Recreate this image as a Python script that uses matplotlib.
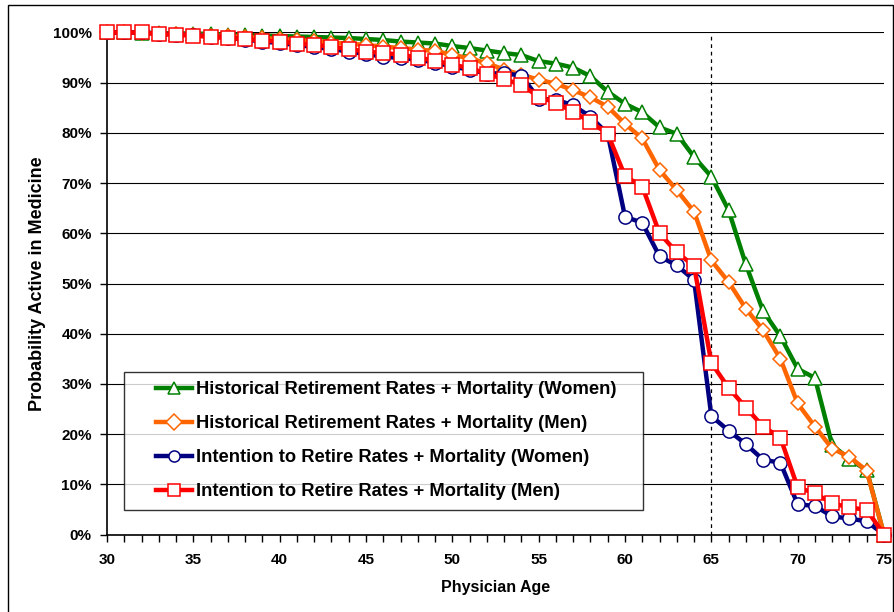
import numpy as np
import matplotlib.pyplot as plt
from matplotlib.patches import Rectangle
from matplotlib.lines import Line2D
from matplotlib.legend_handler import HandlerLine2D
from matplotlib.ticker import MultipleLocator, FuncFormatter

plt.rcParams["font.family"] = ["Liberation Sans", "DejaVu Sans"]
plt.rcParams["font.weight"] = "bold"

ages = list(range(30, 76))

hist_women = [100, 100, 99.9, 99.9, 99.8, 99.8, 99.7, 99.6, 99.5, 99.4,
              99.3, 99.2, 99.1, 99.0, 98.9, 98.7, 98.5, 98.2, 98.0, 97.8,
              97.3, 96.9, 96.4, 95.9, 95.5, 94.3, 93.8, 93.0, 91.3, 88.2,
              85.8, 84.1, 81.1, 79.8, 75.2, 71.3, 64.6, 53.8, 44.5, 39.5,
              33.0, 31.2, 17.8, 15.0, 12.8, 0]
hist_men = [100, 100, 99.9, 99.8, 99.7, 99.6, 99.4, 99.3, 99.1, 98.9,
            98.7, 98.5, 98.3, 98.0, 97.8, 97.5, 97.2, 96.9, 96.6, 96.3,
            95.6, 94.8, 93.9, 92.6, 91.6, 90.6, 89.8, 88.5, 87.1, 85.2,
            81.8, 78.9, 72.6, 68.6, 64.3, 54.6, 50.3, 45.0, 40.7, 35.0,
            26.1, 21.5, 17.1, 15.5, 12.7, 0]
intent_women = [100, 100, 100, 99.8, 99.6, 99.5, 99.2, 99.0, 98.6, 98.2,
                97.9, 97.5, 97.1, 96.7, 96.2, 95.7, 95.2, 94.9, 94.6, 94.0,
                93.2, 92.6, 91.8, 91.9, 91.4, 86.8, 86.6, 85.5, 83.2, 79.8,
                63.3, 62.1, 55.4, 53.6, 50.7, 23.6, 20.7, 18.0, 14.9, 14.3,
                6.0, 5.7, 3.6, 3.2, 2.6, 0]
intent_men = [100, 100, 100, 99.7, 99.5, 99.4, 99.1, 98.9, 98.7, 98.4,
              98.2, 97.8, 97.5, 97.2, 96.7, 96.2, 95.9, 95.6, 95.0, 94.4,
              93.6, 92.9, 91.8, 90.7, 89.6, 87.2, 86.0, 84.2, 82.2, 79.8,
              71.4, 69.3, 60.0, 56.2, 53.5, 34.2, 29.2, 25.3, 21.5, 19.3,
              9.4, 8.2, 6.2, 5.4, 4.9, 0]

series = [
    ("Historical Retirement Rates + Mortality (Women)", hist_women, "#008000", "^"),
    ("Historical Retirement Rates + Mortality (Men)", hist_men, "#FF6600", "D"),
    ("Intention to Retire Rates + Mortality (Women)", intent_women, "#000080", "o"),
    ("Intention to Retire Rates + Mortality (Men)", intent_men, "#FF0000", "s"),
]
marker_sizes = {"^": 9.5, "D": 7.5, "o": 9.5, "s": 10}

fig = plt.figure(figsize=(8.95, 6.12), dpi=100)
ax = fig.add_axes([0.1196, 0.1266, 0.8681, 0.8203])

ax.set_axisbelow(True)
ax.yaxis.grid(True, color="black", linewidth=0.8)
ax.axvline(65, color="black", linestyle=(0, (3, 3)), linewidth=0.9, zorder=1)

for label, vals, color, mk in series:
    ax.plot(ages, vals, color=color, linewidth=3.2, marker=mk,
            markersize=marker_sizes[mk], markerfacecolor="white",
            markeredgecolor=color, markeredgewidth=1.1, label=label,
            clip_on=False, zorder=3)

ax.set_xlim(30, 75)
ax.set_ylim(0, 100)
ax.xaxis.set_major_locator(MultipleLocator(5))
ax.xaxis.set_minor_locator(MultipleLocator(1))
ax.yaxis.set_major_locator(MultipleLocator(10))
ax.yaxis.set_major_formatter(FuncFormatter(lambda v, p: f"{v:.0f}%"))
ax.tick_params(axis="both", which="both", direction="out", labelsize=11,
               width=1, color="black")
ax.tick_params(axis="both", which="major", length=5)
ax.tick_params(axis="x", which="major", pad=8)
ax.tick_params(axis="y", which="major", pad=6)
ax.tick_params(axis="x", which="minor", length=5)

for side in ["top", "right"]:
    ax.spines[side].set_visible(False)
for side in ["left", "bottom"]:
    ax.spines[side].set_linewidth(1.2)

ax.set_xlabel("Physician Age", fontsize=11.5, fontweight="bold", labelpad=10)
ax.set_ylabel("Probability Active in Medicine", fontsize=13, fontweight="bold", labelpad=5)

# legend: handle line pushed right inside the box, box stretched to full width
handler = HandlerLine2D(xpad=1.25)
leg = ax.legend(loc="lower left", bbox_to_anchor=(0.0219, 0.0498, 0.668, 0.3),
                mode="expand", fontsize=13.2, frameon=True, fancybox=False,
                edgecolor="black", handlelength=3.2, labelspacing=0.93,
                borderpad=0.5, handletextpad=0.2, borderaxespad=0,
                handler_map={Line2D: handler})
leg.get_frame().set_linewidth(1.0)
for h in leg.legend_handles:
    h.set_markersize(8)

fig.patches.append(Rectangle((8 / 895, -5 / 612), 885 / 895, 612 / 612,
                             transform=fig.transFigure, fill=False,
                             edgecolor="black", linewidth=1.0))

fig.savefig("out.png", dpi=100)
